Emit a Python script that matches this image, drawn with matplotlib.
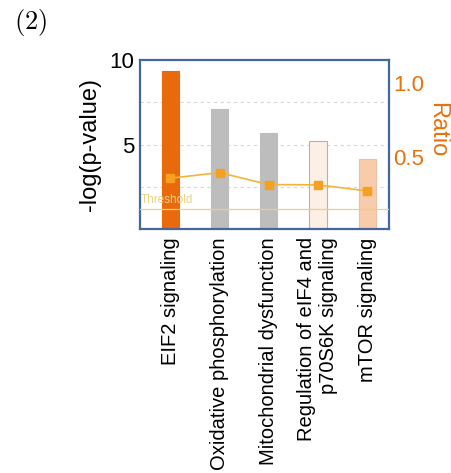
import matplotlib.pyplot as plt
import numpy as np

plt.rcParams['font.family'] = ['Liberation Sans', 'DejaVu Sans']
plt.rcParams['mathtext.fontset'] = 'cm'

pathways = ['EIF2 signaling', 'Oxidative phosphorylation', 'Mitochondrial dysfunction',
            'Regulation of eIF4 and\np70S6K signaling', 'mTOR signaling']
neg_log_p = [9.37, 7.12, 5.66, 5.22, 4.12]
ratio = [0.356, 0.394, 0.313, 0.311, 0.270]
threshold = 1.2

bar_colors = ['#E96A0C', '#BDBDBD', '#BDBDBD', '#FCEFE6', '#F8CBAA']
edge_colors = ['#E96A0C', '#BDBDBD', '#BDBDBD', '#B8B0AC', '#E8C0A6']
orange = '#E8720C'

fig = plt.figure(figsize=(4.51, 4.73), dpi=100)
ax = fig.add_axes([0.310, 0.516, 0.552, 0.357])
x = np.arange(len(pathways))

ax.set_axisbelow(True)
for y in [2.5, 5, 7.5]:
    ax.axhline(y, color='#D8D8D8', linestyle=(0, (3, 3)), linewidth=0.8, zorder=0)
ax.bar(x, neg_log_p, width=0.35, color=bar_colors, edgecolor=edge_colors, linewidth=0.8, zorder=2)
ax.axhline(threshold, color='#EDD27A', linewidth=0.9, zorder=3)
ax.text(-0.61, threshold + 0.15, 'Threshold', color='#E9D48A', fontsize=8.5,
        va='bottom', ha='left', zorder=4)

ax.set_xlim(-0.62, 4.44)
ax.set_ylim(0, 10)
ax.set_yticks([5, 10])
ax.set_yticklabels(['5', '10'], fontsize=16)
ax.tick_params(axis='y', length=0, pad=4)
ax.set_ylabel('-log(p-value)', fontsize=17, labelpad=6)
ax.set_xticks(x)
ax.set_xticklabels(pathways, rotation=90, fontsize=14.5, ha='center', va='top', multialignment='right')
ax.tick_params(axis='x', length=0, pad=6)

for s in ax.spines.values():
    s.set_color('#44679C')
    s.set_linewidth(1.6)

ax2 = ax.twinx()
ax2.plot(x, ratio, color='#F2B43A', linewidth=1.2, marker='s', markersize=6,
         markerfacecolor='#F5A020', markeredgecolor='#F5A020', zorder=3)
ax2.set_ylim(0.013, 1.155)
ax2.set_yticks([0.5, 1.0])
ax2.set_yticklabels(['0.5', '1.0'], fontsize=16, color=orange)
ax2.tick_params(axis='y', length=0, pad=3)
for s in ax2.spines.values():
    s.set_visible(False)

fig.text(437 / 451, 1 - 130 / 473, 'Ratio', fontsize=17, color=orange, rotation=-90,
         ha='center', va='center')
fig.text(0.03, 0.953, r'$(2)$', fontsize=19, ha='left', va='center')

fig.savefig('out.png', dpi=100)
